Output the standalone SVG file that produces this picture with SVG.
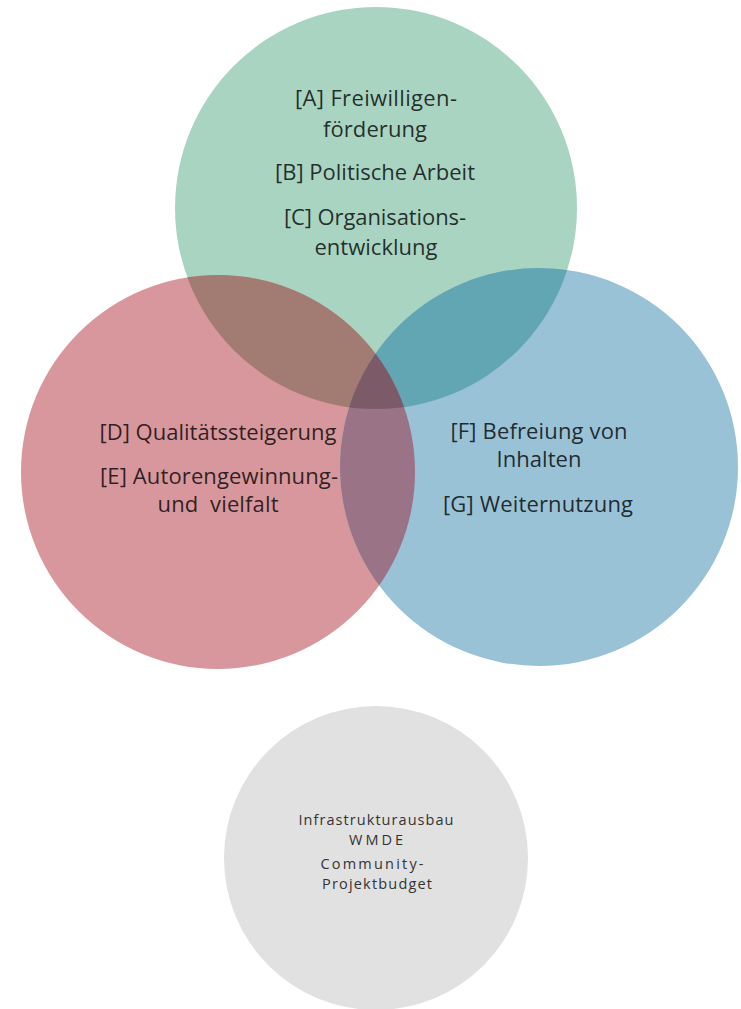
<svg xmlns="http://www.w3.org/2000/svg" width="741" height="1009" viewBox="0 0 741 1009">
  <style>
    .lbl { font-family: "Open Sans", "Liberation Sans", sans-serif; font-size: 22px; fill: #000; fill-opacity: 0.8; text-anchor: middle; }
    .sm { font-family: "Open Sans", "Liberation Sans", sans-serif; font-size: 14.5px; fill: #333333; text-anchor: middle; }
  </style>
  <defs>
    <clipPath id="clipG"><circle cx="376" cy="208" r="201"/></clipPath>
    <clipPath id="clipR"><circle cx="218" cy="472" r="197"/></clipPath>
  </defs>
  <rect x="0" y="0" width="741" height="1009" fill="#ffffff"/>

  <g id="node-green">
    <circle cx="376" cy="208" r="201" fill="#a9d4c2"/>
  </g>
  <g id="node-red">
    <circle cx="218" cy="472" r="197" fill="#d8979c"/>
  </g>
  <g id="node-blue">
    <circle cx="539" cy="467" r="199" fill="#99c2d6"/>
  </g>

  <g id="overlaps">
    <circle cx="218" cy="472" r="197" fill="#a27b72" clip-path="url(#clipG)"/>
    <circle cx="539" cy="467" r="199" fill="#62a6b3" clip-path="url(#clipG)"/>
    <circle cx="539" cy="467" r="199" fill="#9a7386" clip-path="url(#clipR)"/>
    <g clip-path="url(#clipR)">
      <circle cx="539" cy="467" r="199" fill="#7d5a67" clip-path="url(#clipG)"/>
    </g>
  </g>

  <g id="node-gray">
    <circle cx="376" cy="858" r="152" fill="#e1e1e1"/>
  </g>

  <g id="label-green">
    <text class="lbl" x="376" y="106" textLength="162" lengthAdjust="spacing">[A] Freiwilligen-</text>
    <text class="lbl" x="375" y="137" textLength="104" lengthAdjust="spacing">förderung</text>
    <text class="lbl" x="375" y="180" textLength="200" lengthAdjust="spacing">[B] Politische Arbeit</text>
    <text class="lbl" x="375" y="225" textLength="182" lengthAdjust="spacing">[C] Organisations-</text>
    <text class="lbl" x="376" y="255" textLength="123" lengthAdjust="spacing">entwicklung</text>
  </g>
  <g id="label-red">
    <text class="lbl" x="218" y="440" textLength="237" lengthAdjust="spacing">[D] Qualitätssteigerung</text>
    <text class="lbl" x="219" y="484" textLength="238" lengthAdjust="spacing">[E] Autorengewinnung-</text>
    <text class="lbl" x="218" y="512" textLength="121" lengthAdjust="spacing" xml:space="preserve">und  vielfalt</text>
  </g>
  <g id="label-blue">
    <text class="lbl" x="539" y="439" textLength="177" lengthAdjust="spacing">[F] Befreiung von</text>
    <text class="lbl" x="539" y="467" textLength="85" lengthAdjust="spacing">Inhalten</text>
    <text class="lbl" x="538" y="512" textLength="190" lengthAdjust="spacing">[G] Weiternutzung</text>
  </g>
  <g id="label-gray">
    <text class="sm" x="376" y="825" textLength="155" lengthAdjust="spacing">Infrastrukturausbau</text>
    <text class="sm" x="376" y="845" textLength="54" lengthAdjust="spacing">WMDE</text>
    <text class="sm" x="372" y="869" textLength="103" lengthAdjust="spacing">Community-</text>
    <text class="sm" x="377" y="889" textLength="110" lengthAdjust="spacing">Projektbudget</text>
  </g>
</svg>
